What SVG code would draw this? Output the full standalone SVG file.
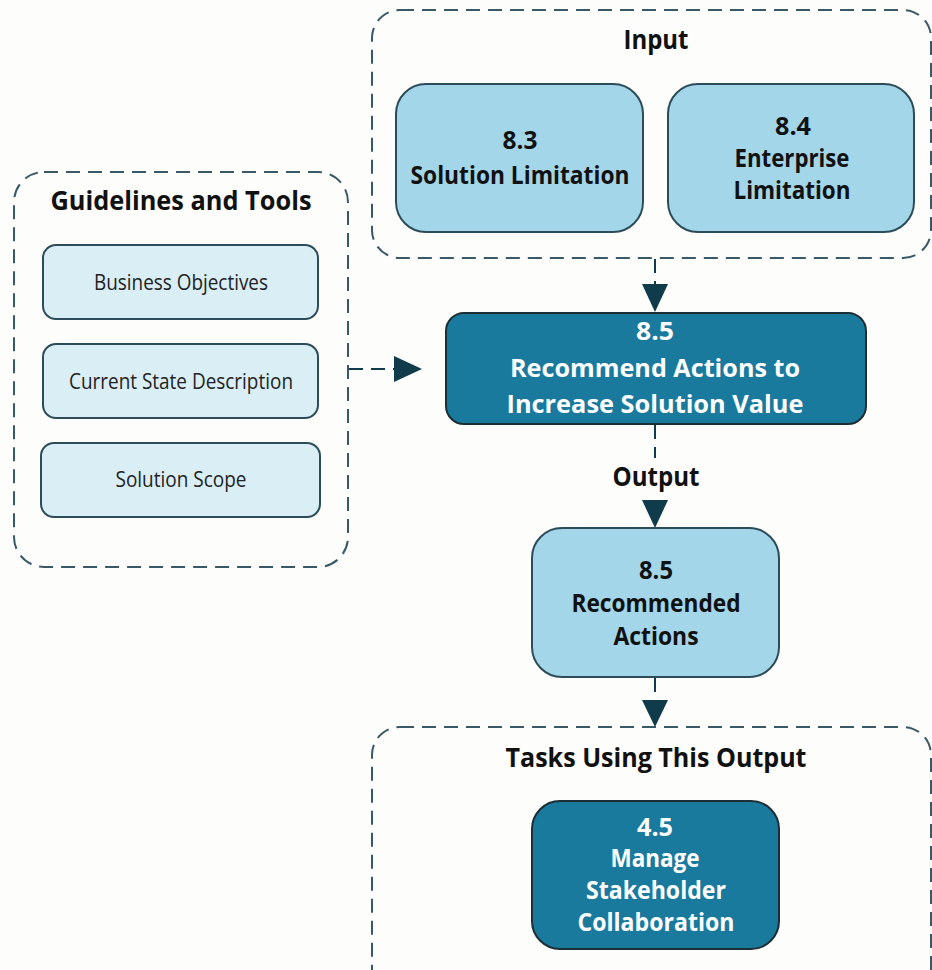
<svg xmlns="http://www.w3.org/2000/svg" width="932" height="970" viewBox="0 0 932 970">
<style>
.bg{fill:#fdfdfb}
.group{fill:none;stroke:#3a5966;stroke-width:2;stroke-dasharray:14 8}
.light{fill:#a3d6e8;stroke:#2b4c58;stroke-width:2}
.pale{fill:#daeef6;stroke:#2b4c58;stroke-width:2}
.dark{fill:#1a7a9e;stroke:#1d2e35;stroke-width:2}
.conn{fill:none;stroke:#0f3b4b;stroke-width:2;stroke-dasharray:14 8}
.head{fill:#0f3b4b}
text{font-family:"Open Sans","Noto Sans",sans-serif;text-anchor:middle}
.title{font-size:27px;font-weight:700;fill:#111}
.bt{font-size:25px;font-weight:700;fill:#111}
.wt{font-size:25px;font-weight:700;fill:#fff}
.it{font-size:22px;font-weight:400;fill:#222}
</style>
<rect class="bg" x="0" y="0" width="932" height="970"/>

<g id="connectors">
<path class="conn" d="M655 259 V284"/>
<polygon class="head" points="642,284 668,284 655,312"/>
<path class="conn" d="M349 369 H394"/>
<polygon class="head" points="394,356 394,382 422,369"/>
<path class="conn" d="M655 425 V458"/>
<polygon class="head" points="642,500 668,500 655,528"/>
<path class="conn" d="M655 678 V698"/>
<polygon class="head" points="642,700 668,700 655,727"/>
</g>

<g id="input">
<rect class="group" x="372" y="10" width="559" height="248" rx="28"/>
<text class="title" x="656" y="49" textLength="65" lengthAdjust="spacingAndGlyphs">Input</text>
</g>
<g id="n83">
<rect class="light" x="396" y="84" width="247" height="148" rx="30"/>
<text class="bt" x="520" y="149" textLength="35" lengthAdjust="spacingAndGlyphs">8.3</text>
<text class="bt" x="520" y="184" textLength="219" lengthAdjust="spacingAndGlyphs">Solution Limitation</text>
</g>
<g id="n84">
<rect class="light" x="668" y="84" width="246" height="148" rx="30"/>
<text class="bt" x="793" y="135" textLength="36" lengthAdjust="spacingAndGlyphs">8.4</text>
<text class="bt" x="792" y="167" textLength="115" lengthAdjust="spacingAndGlyphs">Enterprise</text>
<text class="bt" x="792" y="199" textLength="117" lengthAdjust="spacingAndGlyphs">Limitation</text>
</g>

<g id="guidelines">
<rect class="group" x="14" y="172" width="334" height="395" rx="30"/>
<text class="title" x="181" y="210" textLength="261" lengthAdjust="spacingAndGlyphs">Guidelines and Tools</text>
</g>
<g id="business-objectives">
<rect class="pale" x="43" y="245" width="275" height="74" rx="13"/>
<text class="it" x="181" y="290" textLength="174" lengthAdjust="spacingAndGlyphs">Business Objectives</text>
</g>
<g id="current-state">
<rect class="pale" x="43" y="344" width="275" height="74" rx="13"/>
<text class="it" x="181" y="389" textLength="224" lengthAdjust="spacingAndGlyphs">Current State Description</text>
</g>
<g id="solution-scope">
<rect class="pale" x="41" y="443" width="279" height="74" rx="13"/>
<text class="it" x="181" y="487" textLength="131" lengthAdjust="spacingAndGlyphs">Solution Scope</text>
</g>

<g id="n85">
<rect class="dark" x="446" y="313" width="420" height="111" rx="18"/>
<text class="wt" x="655" y="340" textLength="38" lengthAdjust="spacingAndGlyphs">8.5</text>
<text class="wt" x="655" y="377" textLength="290" lengthAdjust="spacingAndGlyphs">Recommend Actions to</text>
<text class="wt" x="655" y="413" textLength="297" lengthAdjust="spacingAndGlyphs">Increase Solution Value</text>
</g>

<text id="output-label" class="title" x="656" y="486" textLength="87" lengthAdjust="spacingAndGlyphs">Output</text>

<g id="n85-out">
<rect class="light" x="532" y="528" width="247" height="149" rx="30"/>
<text class="bt" x="656" y="579" textLength="34" lengthAdjust="spacingAndGlyphs">8.5</text>
<text class="bt" x="656" y="612" textLength="169" lengthAdjust="spacingAndGlyphs">Recommended</text>
<text class="bt" x="656" y="645" textLength="85" lengthAdjust="spacingAndGlyphs">Actions</text>
</g>

<g id="tasks">
<rect class="group" x="372" y="727" width="559" height="270" rx="28"/>
<text class="title" x="656" y="767" textLength="301" lengthAdjust="spacingAndGlyphs">Tasks Using This Output</text>
</g>
<g id="n45">
<rect class="dark" x="532" y="801" width="247" height="148" rx="28"/>
<text class="wt" x="655" y="836" textLength="36" lengthAdjust="spacingAndGlyphs">4.5</text>
<text class="wt" x="655" y="867" textLength="89" lengthAdjust="spacingAndGlyphs">Manage</text>
<text class="wt" x="656" y="899" textLength="140" lengthAdjust="spacingAndGlyphs">Stakeholder</text>
<text class="wt" x="656" y="931" textLength="157" lengthAdjust="spacingAndGlyphs">Collaboration</text>
</g>
</svg>
